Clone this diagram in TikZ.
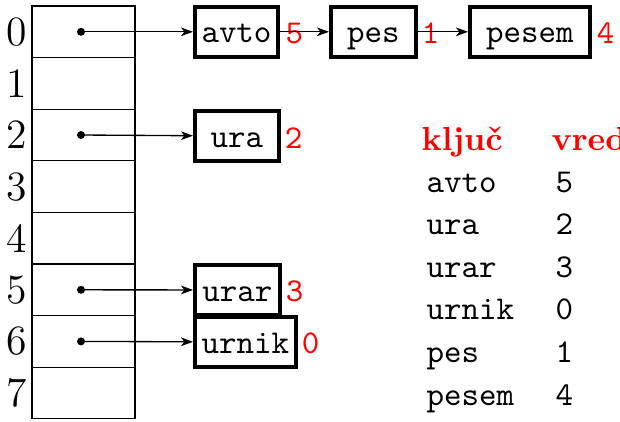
\documentclass[tikz,border=0pt]{standalone}
\usetikzlibrary{arrows.meta}
\begin{document}
\begin{tikzpicture}[x=0.3pt,y=-0.3pt,
  tbl/.style={line width=0.4pt},
  idx/.style={inner sep=0pt,font=\fontsize{12.5}{15}\selectfont},
  dot/.style={circle,fill=black,inner sep=0pt,minimum size=2.4pt},
  key/.style={draw,line width=1.2pt,font=\ttfamily,inner xsep=1pt,inner ysep=0pt,
              minimum height=15pt,text height=7.8pt,text depth=1.2pt,anchor=west},
  lbl/.style={text=red,font=\ttfamily,inner sep=0pt,label distance=1pt,yshift=-0.5pt},
  ptr/.style={line width=0.4pt,-{Stealth[length=3.6pt,width=2.6pt,inset=1pt]}},
  hdr/.style={text=red,font=\bfseries,inner sep=0pt,anchor=base west},
  cell/.style={font=\ttfamily,inner sep=0pt,anchor=base west}]
\useasboundingbox (0,0) rectangle (620,422);

% hash table with eight buckets
\draw[tbl] (32,6) rectangle (135,418.8);
\foreach \i in {1,...,7} \draw[tbl] (32,6+51.6*\i) -- (135,6+51.6*\i);
\foreach \i in {0,...,7} \node[idx] (i\i) at (17,31.8+51.6*\i) {\i};

% bucket pointers
\node[dot] (d0) at (81,31.8) {};
\node[dot] (d2) at (81,135) {};
\node[dot] (d5) at (81,289.8) {};
\node[dot] (d6) at (81,341.4) {};

% chained entries
\node[key,minimum width=24.9pt,label={[lbl,label distance=1.5pt]east:5}] (avto) at (193,31.8) {avto};
\node[key,minimum width=25.5pt,label={[lbl]east:1}] (pes) at (329,31.8) {pes};
\node[key,minimum width=36pt,label={[lbl,label distance=1.3pt]east:4}] (pesem) at (468,31.8) {pesem};
\node[key,minimum width=25.2pt,label={[lbl]east:2}] (ura) at (193,136) {ura};
\node[key,minimum width=25.5pt,label={[lbl]east:3}] (urar) at (193,290) {urar};
\node[key,minimum width=30.3pt,label={[lbl]east:0}] (urnik) at (193,342) {urnik};

\draw[ptr] (d0.center) -- (avto);
\draw[ptr] (avto) -- (pes);
\draw[ptr] (pes) -- (pesem);
\draw[ptr] (d2.center) -- (ura);
\draw[ptr] (d5.center) -- (urar);
\draw[ptr] (d6.center) -- (urnik);

% key / value table
\node[hdr] (hk) at (421,150) {ključ};
\node[hdr] (hv) at (551,150) {vrednost};
\foreach \k/\v [count=\n from 0] in {avto/5,ura/2,urar/3,urnik/0,pes/1,pesem/4} {
  \node[cell] (k\n) at (426,192+42.6*\n) {\k};
  \node[cell] (v\n) at (555,192+42.6*\n) {\v};
}
\end{tikzpicture}
\end{document}
